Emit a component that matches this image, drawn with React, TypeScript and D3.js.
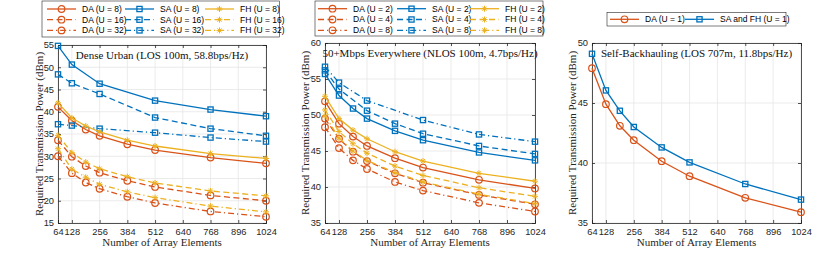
import React, { useEffect, useRef } from 'react';
import * as d3 from 'd3';

// x positions (number of array elements)
const xTicks = [64, 128, 256, 384, 512, 640, 768, 896, 1024];
const xAll = [64, 128, 192, 256, 384, 512, 768, 1024];
const xSparse = [64, 128, 256, 512, 768, 1024];
const xSA4 = [64, 128, 256, 384, 512, 768, 1024];

// Dense Urban
const urbanDA8 = [41.1, 38.0, 36.0, 34.6, 32.7, 31.4, 29.7, 28.4];
const urbanDA16 = [33.6, 29.9, 27.8, 26.3, 24.5, 23.1, 21.2, 20.0];
const urbanDA32 = [30.0, 26.2, 24.1, 22.7, 20.9, 19.5, 17.6, 16.4];
const urbanSA8 = [54.8, 50.6, 46.3, 42.5, 40.5, 39.0];
const urbanSA16 = [48.4, 46.4, 44.0, 38.7, 36.2, 34.6];
const urbanSA32 = [37.2, 36.9, 36.2, 35.3, 34.2, 33.3];
const urbanFH8 = [42.0, 38.6, 36.8, 35.5, 33.6, 32.3, 30.6, 29.5];
const urbanFH16 = [34.7, 30.8, 28.7, 27.2, 25.4, 24.0, 22.2, 21.1];
const urbanFH32 = [31.7, 27.1, 25.3, 23.7, 22.0, 20.7, 18.8, 17.5];

// 50+Mbps Everywhere
const nlosDA2 = [51.9, 48.8, 47.0, 45.7, 44.0, 42.7, 41.0, 39.8];
const nlosDA4 = [49.5, 46.7, 44.9, 43.6, 41.9, 40.6, 38.9, 37.6];
const nlosDA8 = [48.3, 45.4, 43.7, 42.5, 40.7, 39.5, 37.8, 36.6];
const nlosSA2 = [55.7, 52.7, 50.9, 49.5, 47.8, 46.5, 44.8, 43.7];
const nlosSA4 = [56.2, 53.6, 50.6, 48.8, 47.4, 45.7, 44.6];
const nlosSA8 = [56.7, 54.5, 52.0, 49.3, 47.3, 46.3];
const nlosFH2 = [52.6, 49.5, 47.9, 46.7, 44.9, 43.6, 41.9, 40.8];
const nlosFH4 = [50.7, 47.7, 46.0, 44.7, 42.9, 41.6, 39.9, 38.7];
const nlosFH8 = [49.9, 46.8, 45.0, 43.7, 42.0, 40.7, 39.0, 37.7];

// Self-Backhauling
const bhDA1 = [47.9, 44.9, 43.1, 41.9, 40.15, 38.9, 37.1, 35.9];
const bhSA1 = [49.1, 46.05, 44.35, 43.0, 41.3, 40.05, 38.25, 36.95];

const ORANGE = '#D95319';
const BLUE = '#0072BD';
const YELLOW = '#EDB120';
const dashStyles = { solid: null, dash: '6,3.5', dashdot: '6,3,1.2,3' };

const mk = (label, xs, ys, color, marker, dash) => ({ label, xs, ys, color, marker, dash });

const panels = [
  {
    title: 'Dense Urban (LOS 100m, 58.8bps/Hz)',
    box: { l: 58, r: 266, t: 45, b: 223 },
    yDomain: [15, 55],
    yTicks: [15, 20, 25, 30, 35, 40, 45, 50, 55],
    ylabX: 39,
    legend: { x: 42, y: 1, w: 237.5, h: 36, cols: [5, 83, 163], textOff: 35, rows: [8, 18.7, 29.4] },
    series: [
      mk('DA (U = 8)', xAll, urbanDA8, ORANGE, 'circle', 'solid'),
      mk('DA (U = 16)', xAll, urbanDA16, ORANGE, 'circle', 'dash'),
      mk('DA (U = 32)', xAll, urbanDA32, ORANGE, 'circle', 'dashdot'),
      mk('SA (U = 8)', xSparse, urbanSA8, BLUE, 'square', 'solid'),
      mk('SA (U = 16)', xSparse, urbanSA16, BLUE, 'square', 'dash'),
      mk('SA (U = 32)', xSparse, urbanSA32, BLUE, 'square', 'dashdot'),
      mk('FH (U = 8)', xAll, urbanFH8, YELLOW, 'star', 'solid'),
      mk('FH (U = 16)', xAll, urbanFH16, YELLOW, 'star', 'dash'),
      mk('FH (U = 32)', xAll, urbanFH32, YELLOW, 'star', 'dashdot'),
    ],
  },
  {
    title: '50+Mbps Everywhere (NLOS 100m, 4.7bps/Hz)',
    box: { l: 325, r: 535, t: 43, b: 223 },
    yDomain: [35, 60],
    yTicks: [35, 40, 45, 50, 55, 60],
    ylabX: 305,
    legend: { x: 315, y: 1, w: 228, h: 35, cols: [3, 82, 155], textOff: 35, rows: [7.7, 18.5, 29.3] },
    series: [
      mk('DA (U = 2)', xAll, nlosDA2, ORANGE, 'circle', 'solid'),
      mk('DA (U = 4)', xAll, nlosDA4, ORANGE, 'circle', 'dash'),
      mk('DA (U = 8)', xAll, nlosDA8, ORANGE, 'circle', 'dashdot'),
      mk('SA (U = 2)', xAll, nlosSA2, BLUE, 'square', 'solid'),
      mk('SA (U = 4)', xSA4, nlosSA4, BLUE, 'square', 'dash'),
      mk('SA (U = 8)', xSparse, nlosSA8, BLUE, 'square', 'dashdot'),
      mk('FH (U = 2)', xAll, nlosFH2, YELLOW, 'star', 'solid'),
      mk('FH (U = 4)', xAll, nlosFH4, YELLOW, 'star', 'dash'),
      mk('FH (U = 8)', xAll, nlosFH8, YELLOW, 'star', 'dashdot'),
    ],
  },
  {
    title: 'Self-Backhauling (LOS 707m, 11.8bps/Hz)',
    box: { l: 592, r: 801, t: 43, b: 223 },
    yDomain: [35, 50],
    yTicks: [35, 40, 45, 50],
    ylabX: 572,
    legend: { x: 607, y: 12.5, w: 179, h: 13.5, cols: [3, 78], textOff: 35, rows: [6.8] },
    series: [
      mk('DA (U = 1)', xAll, bhDA1, ORANGE, 'circle', 'solid'),
      mk('SA and FH (U = 1)', xAll, bhSA1, BLUE, 'square', 'solid'),
    ],
  },
];

const drawMarker = (g, type, x, y, color) => {
  if (type === 'circle') {
    g.append('circle').attr('cx', x).attr('cy', y).attr('r', 3.3)
      .attr('fill', 'none').attr('stroke', color).attr('stroke-width', 1.2);
  } else if (type === 'square') {
    g.append('rect').attr('x', x - 2.6).attr('y', y - 2.6).attr('width', 5.2).attr('height', 5.2)
      .attr('fill', 'none').attr('stroke', color).attr('stroke-width', 1.3);
  } else {
    const s = 3;
    const p = `M${x - s},${y}L${x + s},${y}M${x},${y - s}L${x},${y + s}` +
      `M${x - s * 0.7},${y - s * 0.7}L${x + s * 0.7},${y + s * 0.7}M${x - s * 0.7},${y + s * 0.7}L${x + s * 0.7},${y - s * 0.7}`;
    g.append('path').attr('d', p).attr('stroke', color).attr('stroke-width', 1).attr('fill', 'none');
  }
};

const App = () => {
  const svgRef = useRef();

  useEffect(() => {
    const svg = d3.select(svgRef.current);
    svg.selectAll('*').remove();

    panels.forEach(panel => {
      const { l, r, t, b } = panel.box;
      const x = d3.scaleLinear().domain([64, 1024]).range([l, r]);
      const y = d3.scaleLinear().domain(panel.yDomain).range([b, t]);
      const g = svg.append('g');

      // grid
      g.selectAll('.gx').data(xTicks).enter().append('line')
        .attr('x1', d => x(d)).attr('x2', d => x(d)).attr('y1', t).attr('y2', b)
        .attr('stroke', '#e6e6e6').attr('stroke-width', 0.8);
      g.selectAll('.gy').data(panel.yTicks).enter().append('line')
        .attr('x1', l).attr('x2', r).attr('y1', d => y(d)).attr('y2', d => y(d))
        .attr('stroke', '#e6e6e6').attr('stroke-width', 0.8);

      // axes (ticks point inward, box on)
      const axB = g.append('g').attr('transform', `translate(0,${b})`)
        .call(d3.axisBottom(x).tickValues(xTicks).tickSize(-3).tickPadding(5).tickFormat(d3.format('d')));
      const axL = g.append('g').attr('transform', `translate(${l},0)`)
        .call(d3.axisLeft(y).tickValues(panel.yTicks).tickSize(-3).tickPadding(4));
      g.append('g').attr('transform', `translate(0,${t})`)
        .call(d3.axisTop(x).tickValues(xTicks).tickSize(-3).tickFormat(() => ''));
      g.append('g').attr('transform', `translate(${r},0)`)
        .call(d3.axisRight(y).tickValues(panel.yTicks).tickSize(-3).tickFormat(() => ''));
      g.selectAll('.domain').attr('stroke', '#262626').attr('stroke-width', 0.8);
      g.selectAll('.tick line').attr('stroke', '#262626').attr('stroke-width', 0.8);
      [axB, axL].forEach(a => a.selectAll('text')
        .style('font-family', '"Liberation Sans", Arial, sans-serif')
        .style('font-size', '9.3px').attr('fill', '#262626'));

      // labels
      g.append('text').attr('x', (l + r) / 2).attr('y', b + 23)
        .attr('text-anchor', 'middle').style('font-family', '"Liberation Serif", serif')
        .style('font-size', '11px').attr('fill', '#262626').text('Number of Array Elements');
      g.append('text').attr('transform', `translate(${panel.ylabX},${(t + b) / 2}) rotate(-90)`)
        .attr('text-anchor', 'middle').attr('dy', '0.35em').style('font-family', '"Liberation Serif", serif')
        .style('font-size', '11px').attr('fill', '#262626').text('Required Transmission Power (dBm)');
      g.append('text').attr('x', (l + r) / 2).attr('y', t + 14)
        .attr('text-anchor', 'middle').style('font-family', '"Liberation Serif", serif')
        .style('font-size', '11px').attr('fill', '#111').text(panel.title);

      // series
      panel.series.forEach(s => {
        const pts = s.xs.map((xv, i) => [x(xv), y(s.ys[i])]);
        g.append('path').attr('d', d3.line()(pts)).attr('fill', 'none')
          .attr('stroke', s.color).attr('stroke-width', 1.3)
          .attr('stroke-dasharray', dashStyles[s.dash]);
        pts.forEach(p => drawMarker(g, s.marker, p[0], p[1], s.color));
      });

      // legend
      const lg = panel.legend;
      const leg = svg.append('g').attr('transform', `translate(${lg.x},${lg.y})`);
      leg.append('rect').attr('width', lg.w).attr('height', lg.h)
        .attr('fill', 'white').attr('stroke', '#262626').attr('stroke-width', 0.6);
      const nRows = lg.rows.length;
      panel.series.forEach((s, i) => {
        const col = Math.floor(i / nRows);
        const row = i % nRows;
        const lx = lg.cols[col];
        const ly = lg.rows[row];
        leg.append('line').attr('x1', lx).attr('x2', lx + 29).attr('y1', ly).attr('y2', ly)
          .attr('stroke', s.color).attr('stroke-width', 1.3).attr('stroke-dasharray', dashStyles[s.dash]);
        drawMarker(leg, s.marker, lx + 14.5, ly, s.color);
        leg.append('text').attr('x', lx + lg.textOff).attr('y', ly).attr('dy', '0.35em')
          .style('font-family', '"Liberation Sans", Arial, sans-serif').style('font-size', '8.5px')
          .attr('fill', '#000').text(s.label);
      });
    });
  }, []);

  return (
    <svg ref={svgRef} width={830} height={257}
      style={{ position: 'absolute', left: 0, top: 0, background: 'white' }} />
  );
};

export default App;
